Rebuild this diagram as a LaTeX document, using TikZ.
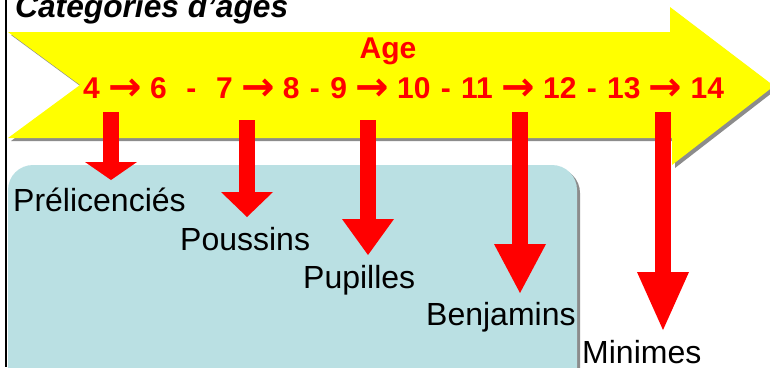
\documentclass[tikz,border=0pt]{standalone}
\usepackage{fontspec}
\setmainfont{Liberation Sans}
\newfontfamily\fleches{DejaVu Sans}
\usetikzlibrary{arrows.meta, positioning}

\definecolor{jaune}{RGB}{255,255,0}
\definecolor{rouge}{RGB}{255,0,0}
\definecolor{bleuclair}{RGB}{186,224,227}
\definecolor{ombre}{RGB}{140,140,140}

\newcommand{\flechedroite}{\raisebox{-2pt}{\fleches\bfseries\fontsize{40}{40}\selectfont →}}
\newcommand{\tiret}{\hspace{2pt} - \hspace{2pt}}

\tikzset{
  etiquette/.style={anchor=base west, inner sep=0pt, font=\fontsize{32}{38}\selectfont},
  chiffres/.style={inner sep=0pt, text=rouge, font=\bfseries\fontsize{30}{36}\selectfont},
  flecherouge/.style={draw=rouge, line width=16pt},
}

\begin{document}
\begin{tikzpicture}[x=1pt, y=-1pt]

  % 1. Cadre de la page
  \clip (0,0) rectangle (770,367);
  \fill[white] (0,0) rectangle (770,367);

  % 2. Grande flèche jaune (ombre puis flèche)
  \fill[ombre, shift={(3,3)}] (8,32) -- (670,32) -- (670,7) -- (774,86)
    -- (672,165) -- (672,138) -- (8,138) -- (80,85) -- cycle;
  \fill[jaune] (8,32) -- (670,32) -- (670,7) -- (774,86)
    -- (672,165) -- (672,138) -- (8,138) -- (80,85) -- cycle;

  % 3. Cadre bleu clair arrondi
  \fill[ombre, rounded corners=25pt] (11,168) rectangle (580,400);
  \fill[bleuclair, rounded corners=25pt] (8,165) rectangle (577,400);

  % Trait vertical à gauche
  \draw[line width=2pt] (6,0) -- (6,367);

  % 4. Titre et graduations
  \node[anchor=base west, inner sep=0pt, font=\bfseries\itshape\fontsize{31.7}{38}\selectfont]
    (titre) at (15,17) {Categories d’ages};
  \node[chiffres, anchor=base] (age) at (388,58) {Age};
  \node[chiffres, anchor=base west] (ages) at (83,98)
    {4 \flechedroite{} 6 \hspace{3pt} - \hspace{3pt} 7 \flechedroite{} 8\tiret 9 \flechedroite{}
     10\tiret 11 \flechedroite{} 12\tiret 13 \flechedroite{} 14};

  % 5. Flèches rouges vers les catégories
  \foreach \i/\x/\ya/\yb/\l in {1/111/112/180/18, 2/247/120/217/25, 3/368/120/255/36,
                                4/520/112/293/49, 5/663/112/330/58} {
    \coordinate (haut\i) at (\x,\ya);
    \coordinate (pointe\i) at (\x,\yb);
    \draw[flecherouge, -{Triangle[width=52pt, length=\l pt, line width=0pt]}]
      (haut\i) -- (pointe\i);
  }

  % 6. Catégories
  \node[etiquette] (preli) at (13,211) {Prélicenciés};
  \node[etiquette] (pouss) at (180,250) {Poussins};
  \node[etiquette] (pupil) at (303,288) {Pupilles};
  \node[etiquette] (benja) at (426,325) {Benjamins};
  \node[etiquette] (minim) at (582,363) {Minimes};

\end{tikzpicture}
\end{document}
